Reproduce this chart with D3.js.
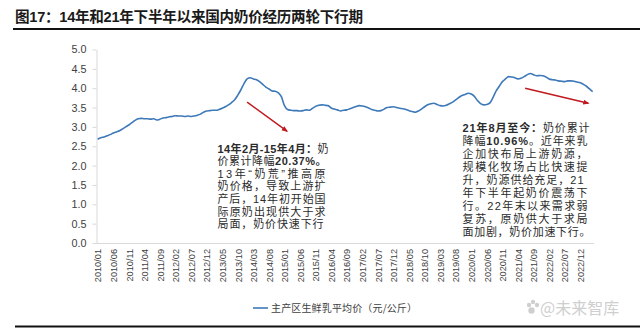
<!DOCTYPE html>
<html><head><meta charset="utf-8">
<script src="https://cdn.jsdelivr.net/npm/d3@7"></script>
<style>
html,body{margin:0;padding:0;background:#fff;}
svg{display:block;}
</style></head>
<body><svg id="c" width="640" height="328"></svg>
<script>
const title = "图17：14年和21年下半年以来国内奶价经历两轮下行期";
const seriesName = "主产区生鲜乳平均价（元/公斤）";
const startMonth = "2010/01";
const prices = [
 2.68,2.72,2.74,2.77,2.80,2.84,2.87,2.90,2.95,3.00,3.05,3.11,
 3.17,3.21,3.22,3.21,3.21,3.20,3.21,3.18,3.20,3.23,3.24,3.26,
 3.27,3.29,3.28,3.28,3.27,3.28,3.27,3.28,3.30,3.33,3.38,3.41,
 3.42,3.43,3.43,3.45,3.48,3.52,3.57,3.63,3.70,3.82,3.96,4.12,
 4.24,4.27,4.24,4.22,4.17,4.10,4.03,3.98,3.93,3.92,3.88,3.78,
 3.55,3.45,3.43,3.42,3.42,3.41,3.42,3.44,3.43,3.48,3.53,3.56,
 3.57,3.56,3.55,3.49,3.46,3.44,3.41,3.43,3.44,3.47,3.50,3.53,
 3.55,3.54,3.52,3.49,3.45,3.43,3.41,3.42,3.46,3.50,3.51,3.52,
 3.50,3.48,3.47,3.45,3.42,3.40,3.38,3.41,3.46,3.52,3.57,3.60,
 3.61,3.58,3.55,3.54,3.56,3.60,3.64,3.70,3.76,3.81,3.84,3.87,
 3.85,3.79,3.68,3.60,3.57,3.58,3.62,3.76,3.93,4.05,4.17,4.24,
 4.30,4.29,4.27,4.24,4.26,4.30,4.35,4.38,4.35,4.32,4.33,4.32,
 4.29,4.24,4.22,4.21,4.19,4.18,4.17,4.19,4.19,4.18,4.16,4.14,
 4.10,4.05,3.98,3.91
];
const xTickLabels = ["2010/01","2010/06","2010/11","2011/04","2011/09","2012/02","2012/07","2012/12",
 "2013/05","2013/10","2014/03","2014/08","2015/01","2015/06","2015/11","2016/04","2016/09","2017/02",
 "2017/07","2017/12","2018/05","2018/10","2019/03","2019/08","2020/01","2020/06","2020/11","2021/04",
 "2021/09","2022/02","2022/07","2022/12"];
const yTicks = [0,0.5,1.0,1.5,2.0,2.5,3.0,3.5,4.0,4.5,5.0];
const note1 = [
 [["14年2月-15年4月：",true],["奶",false]],
 [["价累计降幅",false],["20.37%。",true]],
 [["13年“奶荒”推高原",false]],
 [["奶价格，导致上游扩",false]],
 [["产后，14年初开始国",false]],
 [["际原奶出现供大于求",false]],
 [["局面，奶价快速下行",false]]
];
const note2 = [
 [["21年8月至今：",true],["奶价累计",false]],
 [["降幅",false],["10.96%",true],["。近年来乳",false]],
 [["企加快布局上游奶源，",false]],
 [["规模化牧场占比快速提",false]],
 [["升，奶源供给充足，21",false]],
 [["年下半年起奶价震荡下",false]],
 [["行。22年末以来需求弱",false]],
 [["复苏，原奶供大于求局",false]],
 [["面加剧，奶价加速下行。",false]]
];
// arrows given as [month index, value] pairs
const arrows = [ [[48.0,3.64],[60.8,2.89]], [[137.3,4.0],[157.6,3.61]] ];

const months = d3.timeMonth.range(d3.timeParse("%Y/%m")(startMonth), d3.timeMonth.offset(d3.timeParse("%Y/%m")(startMonth), prices.length));
const fmt = d3.timeFormat("%Y/%m");
const cats = months.map(fmt);
const data = cats.map((c,i)=>({c, i, v: prices[i]}));

const svg = d3.select("#c");
const FONT = "'Liberation Sans', Arial, 'Noto Sans CJK SC', sans-serif";
const CJK = "'Noto Sans CJK SC', sans-serif";

const x = d3.scaleLinear().domain([0, prices.length-1]).range([97.7, 97.7 + (prices.length-1)*3.113]);
const y = d3.scaleLinear().domain([0,5]).range([243, 49.5]);

// title
svg.append("text").attr("x",15).attr("y",22).attr("font-family","'Liberation Sans', 'Noto Sans CJK SC', sans-serif")
  .attr("font-weight","bold").attr("font-size",14.6).attr("fill","#1a1a1a")
  .attr("textLength",348).attr("lengthAdjust","spacing").text(title);
svg.append("line").attr("x1",13).attr("x2",640).attr("y1",29).attr("y2",29).attr("stroke","#111").attr("stroke-width",2);
svg.append("line").attr("x1",15).attr("x2",640).attr("y1",326.5).attr("y2",326.5).attr("stroke","#111").attr("stroke-width",2);

// y axis
const yAxis = svg.append("g").attr("transform","translate(96.5,0)")
  .call(d3.axisLeft(y).tickValues(yTicks).tickFormat(d3.format(".1f")).tickSize(4).tickSizeOuter(0).tickPadding(6));
yAxis.select(".domain").attr("stroke","#d9d9d9");
yAxis.selectAll(".tick line").attr("stroke","#d9d9d9");
yAxis.selectAll("text").attr("font-family",FONT).attr("font-size",10.8).attr("fill","#404040");

// x axis
const tickIdx = xTickLabels.map(l => cats.indexOf(l));
const xAxis = svg.append("g").attr("transform","translate(0,243)")
  .call(d3.axisBottom(x).tickValues(tickIdx).tickFormat(i => cats[i]).tickSize(0).tickSizeOuter(0));
xAxis.select(".domain").attr("stroke","#d9d9d9").attr("d","M96.5,0.5H594");
xAxis.selectAll("text").attr("transform","rotate(-90)").attr("x",-6).attr("y",0).attr("dy","0.35em")
  .style("text-anchor","end").attr("font-family",FONT).attr("font-size",9.2).attr("fill","#404040");

// line
svg.append("path").datum(data).attr("fill","none").attr("stroke","#3d78b8").attr("stroke-width",1.6)
  .attr("stroke-linejoin","round")
  .attr("d", d3.line().x(d=>x(d.i)).y(d=>y(d.v)).curve(d3.curveMonotoneX));

// arrows
const defs = svg.append("defs");
defs.append("marker").attr("id","ah").attr("viewBox","0 0 10 10").attr("refX",8).attr("refY",5)
  .attr("markerWidth",4.5).attr("markerHeight",4.5).attr("orient","auto")
  .append("path").attr("d","M0,1 L10,5 L0,9 z").attr("fill","#c0191f");
arrows.forEach(a => {
  svg.append("line").attr("x1",x(a[0][0])).attr("y1",y(a[0][1])).attr("x2",x(a[1][0])).attr("y2",y(a[1][1]))
    .attr("stroke","#c0191f").attr("stroke-width",1.4).attr("marker-end","url(#ah)");
});

// notes
function drawNote(lines, x0, y0, lh, widths){
  lines.forEach((segs, k) => {
    const t = svg.append("text").attr("x",x0).attr("y",y0 + k*lh).attr("font-family",FONT)
      .attr("font-size",11).attr("fill","#2b2b2b");
    if (widths[k]) t.attr("textLength",widths[k]).attr("lengthAdjust","spacing");
    segs.forEach(s => t.append("tspan").attr("font-weight", s[1] ? "bold" : "normal").text(s[0]));
  });
}
drawNote(note1, 217.5, 152.5, 12.6, [111,109,108,108,108,108,106]);
drawNote(note2, 462.5, 132.3, 12.9, [127,125,125,125,121,125,125,125,128]);

// legend
svg.append("line").attr("x1",253).attr("x2",268).attr("y1",308).attr("y2",308).attr("stroke","#3d78b8").attr("stroke-width",1.6);
svg.append("text").attr("x",271).attr("y",311.5).attr("font-family",CJK).attr("font-size",10).attr("fill","#404040")
  .attr("textLength",146).attr("lengthAdjust","spacing").text(seriesName);

// watermark
const wm = svg.append("g").attr("fill","#cfcfcf");
[[529,305,2.2],[533,302,2.2],[537,305,2.2],[531.5,310.5,3.2]].forEach(p=>wm.append("circle").attr("cx",p[0]).attr("cy",p[1]).attr("r",p[2]));
wm.append("text").attr("x",540).attr("y",314).attr("font-family",CJK).attr("font-size",16).text("@未来智库");
</script></body></html>
